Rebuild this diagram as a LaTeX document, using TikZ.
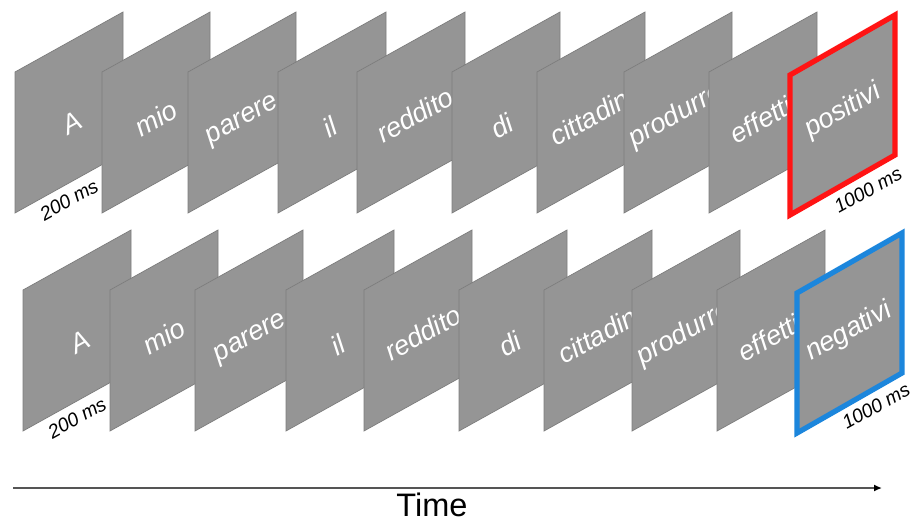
\documentclass[tikz,border=0pt]{standalone}
\usepackage{fontspec}
\setmainfont{Liberation Sans}
\usetikzlibrary{arrows.meta}

\definecolor{panelgray}{RGB}{149,149,149}
\definecolor{paneledge}{RGB}{125,125,125}
\definecolor{boxred}{RGB}{255,20,20}
\definecolor{boxblue}{RGB}{28,134,220}
\definecolor{axisgray}{RGB}{85,85,85}

\begin{document}
\begin{tikzpicture}[x=0.02cm,y=-0.02cm,
    panel/.style={fill=panelgray, draw=paneledge, line width=0.4pt},
    word/.style={text=white, rotate=29, inner sep=0pt, font=\itshape\fontsize{15.5}{18}\selectfont},
    duration/.style={rotate=29, inner sep=0pt, font=\itshape\fontsize{11}{13}\selectfont},
    target/.style={fill=panelgray, line width=3pt, line join=miter}]
    \useasboundingbox (0,0) rectangle (913,522);
    % Riga superiore
    \draw[panel] (15,72) -- ++(108,-60) -- ++(0,141) -- ++(-108,60) -- cycle;
    \node[word] (w1a) at (72,123) {A};
    \node[duration] (t1a) at (69,200) {200 ms};
    \draw[panel] (102,72) -- ++(108,-60) -- ++(0,141) -- ++(-108,60) -- cycle;
    \node[word] (w1b) at (156,118) {mio};
    \draw[panel] (188,72) -- ++(108,-60) -- ++(0,141) -- ++(-108,60) -- cycle;
    \node[word] (w1c) at (243,121) {parere};
    \draw[panel] (278,72) -- ++(108,-60) -- ++(0,141) -- ++(-108,60) -- cycle;
    \node[word] (w1d) at (330,127) {il};
    \draw[panel] (357,72) -- ++(108,-60) -- ++(0,141) -- ++(-108,60) -- cycle;
    \node[word] (w1e) at (415,115) {reddito};
    \draw[panel] (452,72) -- ++(108,-60) -- ++(0,141) -- ++(-108,60) -- cycle;
    \node[word] (w1f) at (502,126) {di};
    \draw[panel] (537,72) -- ++(108,-60) -- ++(0,141) -- ++(-108,60) -- cycle;
    \node[word] (w1g) at (592,116) {cittadini};
    \draw[panel] (624,72) -- ++(108,-60) -- ++(0,141) -- ++(-108,60) -- cycle;
    \node[word] (w1h) at (676,116) {produrre};
    \draw[panel] (709,72) -- ++(108,-60) -- ++(0,141) -- ++(-108,60) -- cycle;
    \node[word] (w1i) at (761,120) {effetti};
    \draw[target, draw=boxred] (790,75) -- ++(105,-60) -- ++(0,140) -- ++(-105,60) -- cycle;
    \node[word] (w1j) at (843,111) {positivi};
    \node[duration] (t1j) at (868,190) {1000 ms};
    % Riga inferiore
    \draw[panel] (23,290) -- ++(108,-60) -- ++(0,141) -- ++(-108,60) -- cycle;
    \node[word] (w2a) at (80,342) {A};
    \node[duration] (t2a) at (77,418) {200 ms};
    \draw[panel] (110,290) -- ++(108,-60) -- ++(0,141) -- ++(-108,60) -- cycle;
    \node[word] (w2b) at (164,336) {mio};
    \draw[panel] (195,290) -- ++(108,-60) -- ++(0,141) -- ++(-108,60) -- cycle;
    \node[word] (w2c) at (251,339) {parere};
    \draw[panel] (286,290) -- ++(108,-60) -- ++(0,141) -- ++(-108,60) -- cycle;
    \node[word] (w2d) at (338,345) {il};
    \draw[panel] (364,290) -- ++(108,-60) -- ++(0,141) -- ++(-108,60) -- cycle;
    \node[word] (w2e) at (423,333) {reddito};
    \draw[panel] (459,290) -- ++(108,-60) -- ++(0,141) -- ++(-108,60) -- cycle;
    \node[word] (w2f) at (510,344) {di};
    \draw[panel] (544,290) -- ++(108,-60) -- ++(0,141) -- ++(-108,60) -- cycle;
    \node[word] (w2g) at (600,334) {cittadini};
    \draw[panel] (632,290) -- ++(108,-60) -- ++(0,141) -- ++(-108,60) -- cycle;
    \node[word] (w2h) at (684,334) {produrre};
    \draw[panel] (717,290) -- ++(108,-60) -- ++(0,141) -- ++(-108,60) -- cycle;
    \node[word] (w2i) at (769,338) {effetti};
    \draw[target, draw=boxblue] (797,293) -- ++(105,-60) -- ++(0,140) -- ++(-105,60) -- cycle;
    \node[word] (w2j) at (849,332) {negativi};
    \node[duration] (t2j) at (876,406) {1000 ms};
    % Asse del tempo
    \coordinate (tstart) at (13,488);
    \coordinate (tend) at (882,488);
    \draw[axisgray, line width=1.1pt, -{Latex[length=4.5pt,width=4pt,black]}] (tstart) -- (tend);
    \node[font=\fontsize{18.5}{22}\selectfont] (time) at (432,505) {Time};
\end{tikzpicture}
\end{document}
